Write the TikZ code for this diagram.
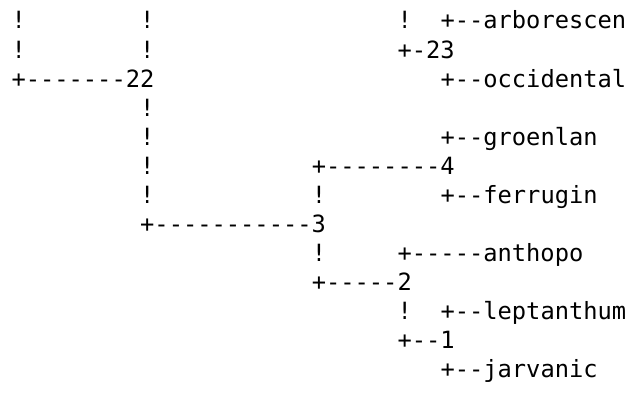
\documentclass[tikz,border=0pt]{standalone}
\usepackage{fontspec}
\setmonofont{DejaVu Sans Mono}

\tikzset{every picture/.style={line width=0.75pt}}
\tikzset{treetext/.style={anchor=base west,inner sep=0pt,font=\ttfamily\fontsize{17.8pt}{21.8pt}\selectfont}}

\begin{document}
\begin{tikzpicture}[x=0.75pt,y=0.75pt,yscale=-1,xscale=1]
\useasboundingbox (0,0) rectangle (644,399);

% column (c) at x = 11+14.3*c, row (r) at y = 29+29.08*(r-1)
\foreach \r/\c [count=\i] in {1/0,1/9,1/27,2/0,2/9,4/9,5/9,6/9,7/9,7/21,9/21,11/27}
  \node (bar\i) [treetext] at ({11+14.3*\c},{29+29.08*(\r-1)}) {!};

% Text Node
\node (n22) [treetext] at ({11+14.3*0},{29+29.08*2}) {+-------22};
% Text Node
\node (n23) [treetext] at ({11+14.3*27},{29+29.08*1}) {+-23};
% Text Node
\node (n4) [treetext] at ({11+14.3*21},{29+29.08*5}) {+--------4};
% Text Node
\node (n3) [treetext] at ({11+14.3*9},{29+29.08*7}) {+-----------3};
% Text Node
\node (n2) [treetext] at ({11+14.3*21},{29+29.08*9}) {+-----2};
% Text Node
\node (n1) [treetext] at ({11+14.3*27},{29+29.08*11}) {+--1};

% Text Node
\node (arb) [treetext] at ({11+14.3*30},{29+29.08*0}) {+--arborescen};
% Text Node
\node (occ) [treetext] at ({11+14.3*30},{29+29.08*2}) {+--occidental};
% Text Node
\node (gro) [treetext] at ({11+14.3*30},{29+29.08*4}) {+--groenlan};
% Text Node
\node (fer) [treetext] at ({11+14.3*30},{29+29.08*6}) {+--ferrugin};
% Text Node
\node (ant) [treetext] at ({11+14.3*27},{29+29.08*8}) {+-----anthopo};
% Text Node
\node (lep) [treetext] at ({11+14.3*30},{29+29.08*10}) {+--leptanthum};
% Text Node
\node (jar) [treetext] at ({11+14.3*30},{29+29.08*12}) {+--jarvanic};

\end{tikzpicture}
\end{document}
